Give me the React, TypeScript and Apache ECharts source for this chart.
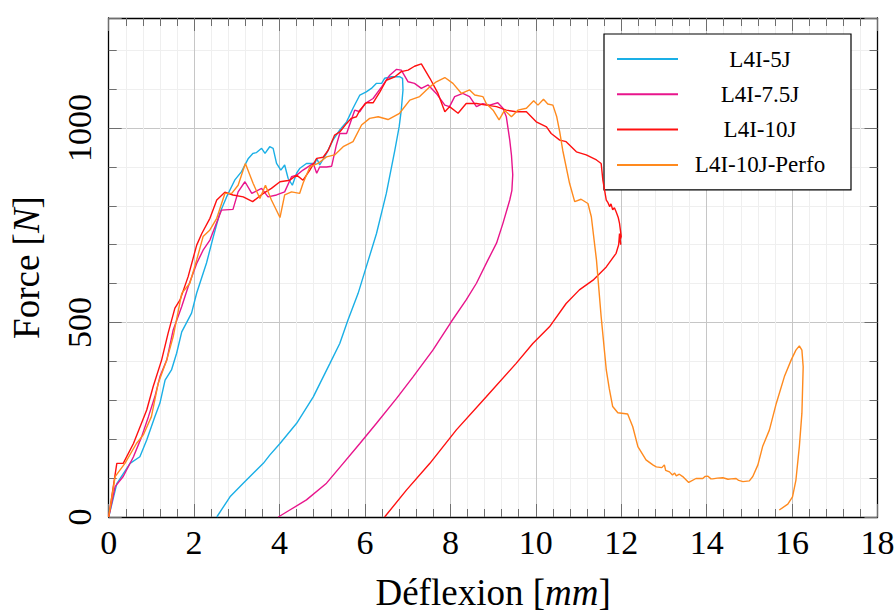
import React, { useEffect, useRef } from "react";
import * as echarts from "echarts";

const seriesNames = ["L4I-5J", "L4I-7.5J", "L4I-10J", "L4I-10J-Perfo"];
const seriesColors = ["#1AAFE6", "#E8158C", "#FF1010", "#FF8A1E"];

const xTicks = { min: 0, max: 18, interval: 2 };
const yTicks = { min: 0, max: 1283, interval: 500 };

const l4i5J: [number, number][] = [
  [0, 0], [0.19, 86], [0.5, 138], [0.73, 155], [0.89, 198], [1.08, 258], [1.2, 293], [1.32, 352],
  [1.47, 378], [1.59, 421], [1.71, 476], [1.94, 524], [2.06, 576], [2.29, 653], [2.45, 721],
  [2.6, 781], [2.76, 823], [2.95, 866], [3.11, 888], [3.27, 922], [3.38, 935], [3.46, 937],
  [3.58, 948], [3.66, 935], [3.77, 952], [3.85, 948], [3.93, 909], [4.03, 892], [4.12, 905],
  [4.2, 871], [4.3, 853], [4.4, 884], [4.47, 896], [4.63, 909], [4.83, 909], [4.87, 922],
  [4.94, 905], [5.1, 935], [5.25, 969], [5.41, 995], [5.57, 1016], [5.72, 1051], [5.88, 1085],
  [6.03, 1093], [6.15, 1102], [6.27, 1115], [6.39, 1115], [6.46, 1128], [6.62, 1132], [6.81, 1132],
  [6.88, 1128], [6.89, 1098], [6.85, 1046], [6.8, 1003], [6.7, 943], [6.5, 832], [6.27, 729],
  [6.03, 643], [5.84, 575], [5.6, 506], [5.41, 446], [5.18, 395], [4.79, 309], [4.4, 241],
  [4.01, 189], [3.77, 159], [3.62, 138], [3.15, 87], [2.84, 52], [2.53, 0],
];

const l4i75J: [number, number][] = [
  [0, 0], [0.15, 78], [0.34, 104], [0.58, 155], [0.77, 206], [0.93, 258], [1.08, 309], [1.2, 361],
  [1.36, 404], [1.51, 481], [1.71, 541], [1.86, 592], [2.06, 652], [2.21, 686], [2.37, 712],
  [2.49, 746], [2.64, 789], [2.91, 791], [3.03, 836], [3.19, 862], [3.35, 832], [3.58, 845],
  [3.73, 823], [3.93, 828], [4.12, 836], [4.28, 875], [4.4, 879], [4.55, 892], [4.79, 909],
  [4.87, 884], [4.94, 900], [5.1, 900], [5.22, 902], [5.33, 956], [5.41, 986], [5.57, 986],
  [5.76, 1046], [5.88, 1042], [6.0, 1063], [6.19, 1076], [6.39, 1106], [6.58, 1136], [6.74, 1151],
  [6.85, 1149], [7.01, 1119], [7.16, 1115], [7.32, 1102], [7.48, 1111], [7.67, 1089], [7.87, 1059],
  [7.98, 1055], [8.1, 1081], [8.29, 1089], [8.45, 1081], [8.61, 1055], [8.76, 1063], [8.92, 1059],
  [9.11, 1065], [9.23, 1051], [9.31, 1029], [9.39, 969], [9.43, 930], [9.46, 880], [9.44, 840],
  [9.39, 815], [9.23, 755], [9.08, 704], [8.88, 661], [8.61, 601], [8.37, 558], [8.02, 502],
  [7.59, 429], [7.13, 361], [6.74, 305], [6.27, 241], [5.88, 189], [5.49, 138], [5.1, 87],
  [4.63, 44], [4.24, 18], [3.97, 0],
];

const l4i10J: [number, number][] = [
  [0, 0], [0.19, 138], [0.34, 138], [0.58, 189], [0.89, 275], [1.04, 335], [1.24, 404], [1.39, 472],
  [1.55, 537], [1.67, 558], [1.86, 618], [2.06, 699], [2.18, 729], [2.37, 768], [2.53, 815],
  [2.72, 835], [2.91, 828], [3.15, 823], [3.37, 811], [3.62, 832], [3.81, 845], [4.01, 862],
  [4.24, 866], [4.4, 879], [4.55, 866], [4.71, 892], [4.87, 922], [5.02, 925], [5.14, 943],
  [5.29, 982], [5.41, 990], [5.57, 1012], [5.68, 1025], [5.8, 1029], [5.88, 1046], [6.03, 1065],
  [6.19, 1065], [6.35, 1093], [6.5, 1123], [6.7, 1132], [6.85, 1145], [7.01, 1149], [7.16, 1159],
  [7.32, 1165], [7.52, 1128], [7.71, 1089], [7.87, 1042], [7.98, 1055], [8.18, 1038], [8.37, 1063],
  [8.61, 1063], [8.84, 1059], [9.08, 1055], [9.31, 1046], [9.54, 1042], [9.78, 1042], [10.01, 1016],
  [10.25, 1003], [10.36, 986], [10.56, 969], [10.71, 965], [10.95, 939], [11.18, 931], [11.42, 918],
  [11.53, 909], [11.57, 866], [11.65, 815], [11.69, 808], [11.73, 798], [11.76, 805], [11.8, 790],
  [11.84, 795], [11.88, 785], [11.93, 770], [11.96, 755], [12.0, 721], [11.97, 712], [11.99, 700],
  [11.96, 729], [11.94, 700], [11.88, 678], [11.65, 643], [11.34, 609], [11.02, 584], [10.71, 549],
  [10.32, 489], [9.93, 446], [9.54, 395], [8.84, 309], [8.14, 224], [7.52, 138], [6.97, 69],
  [6.46, 0],
];

const l4i10JPerfo: [number, number][] = [
  [0, 0], [0.15, 104], [0.38, 138], [0.65, 189], [0.81, 211], [1.0, 258], [1.16, 344], [1.36, 404],
  [1.51, 464], [1.71, 575], [1.9, 601], [2.06, 661], [2.21, 721], [2.37, 738], [2.53, 768],
  [2.72, 832], [2.88, 832], [3.03, 853], [3.2, 909], [3.38, 858], [3.54, 819], [3.67, 853],
  [3.81, 815], [4.01, 770], [4.12, 828], [4.28, 836], [4.47, 832], [4.55, 858], [4.71, 900],
  [4.9, 909], [5.1, 926], [5.29, 931], [5.49, 952], [5.72, 965], [5.92, 1008], [6.11, 1025],
  [6.31, 1029], [6.54, 1022], [6.81, 1038], [7.05, 1072], [7.28, 1081], [7.52, 1106], [7.67, 1119],
  [7.87, 1130], [8.06, 1115], [8.26, 1089], [8.45, 1098], [8.57, 1085], [8.76, 1081], [8.84, 1063],
  [9.0, 1046], [9.14, 1021], [9.27, 1046], [9.43, 1029], [9.58, 1046], [9.78, 1051], [9.95, 1070],
  [10.05, 1059], [10.18, 1074], [10.28, 1062], [10.4, 1059], [10.49, 1029], [10.56, 990],
  [10.63, 943], [10.79, 858], [10.91, 811], [11.06, 817], [11.22, 806], [11.3, 772], [11.42, 661],
  [11.53, 515], [11.65, 378], [11.72, 330], [11.8, 284], [11.92, 268], [12.15, 265], [12.27, 232],
  [12.39, 181], [12.58, 147], [12.74, 134], [12.82, 129],
  [12.95, 127], [13.01, 134], [13.04, 120], [13.13, 116], [13.2, 108], [13.25, 113], [13.29, 106],
  [13.36, 110], [13.44, 104], [13.58, 89], [13.75, 99], [13.91, 99], [13.96, 104], [14.03, 105],
  [14.1, 98], [14.14, 98], [14.25, 100], [14.38, 101], [14.5, 97], [14.57, 98], [14.69, 99],
  [14.75, 94], [14.85, 91], [15.0, 93], [15.08, 104], [15.2, 134], [15.31, 181], [15.47, 224],
  [15.63, 292], [15.82, 361], [15.98, 404], [16.09, 429], [16.17, 440], [16.23, 429], [16.26, 386],
  [16.23, 267], [16.17, 181], [16.09, 95], [16.01, 52], [15.9, 33], [15.7, 18],
];

const allData = [l4i5J, l4i75J, l4i10J, l4i10JPerfo];

const FONT = "'Liberation Serif', 'DejaVu Serif', serif";

export default function App() {
  const ref = useRef<HTMLDivElement>(null);
  useEffect(() => {
    if (!ref.current) return;
    const chart = echarts.init(ref.current, undefined, { renderer: "svg" });
    const tickStyle = { color: "#6e6e6e", width: 1 };
    const baseX = {
      type: "value" as const,
      min: xTicks.min,
      max: xTicks.max,
      interval: xTicks.interval,
      axisLine: { show: true, onZero: false, lineStyle: { color: "#000", width: 1.3 } },
      axisTick: { show: true, inside: true, length: 13, lineStyle: tickStyle },
      minorTick: { show: true, splitNumber: 5, length: 8, lineStyle: tickStyle },
    };
    const baseY = {
      type: "value" as const,
      min: yTicks.min,
      max: yTicks.max,
      interval: yTicks.interval,
      axisLine: { show: true, onZero: false, lineStyle: { color: "#000", width: 1.3 } },
      axisTick: { show: true, inside: true, length: 13, lineStyle: tickStyle },
      minorTick: { show: true, splitNumber: 5, length: 8, lineStyle: tickStyle },
    };
    chart.setOption({
      animation: false,
      backgroundColor: "#fff",
      grid: { left: 108.7, right: 18.5, top: 18, bottom: 95, containLabel: false, outerBoundsMode: "none" },
      xAxis: [
        {
          ...baseX,
          position: "bottom",
          name: "Déflexion [{i|mm}]",
          nameLocation: "middle",
          nameGap: 57,
          nameTextStyle: {
            fontFamily: FONT,
            fontSize: 37,
            color: "#000",
            rich: { i: { fontFamily: FONT, fontSize: 37, fontStyle: "italic", color: "#000" } },
          },
          axisLabel: { show: true, fontFamily: FONT, fontSize: 34, color: "#000", margin: 8, formatter: (v: number) => String(v) },
          splitLine: { show: true, lineStyle: { color: "#c6c6c6", width: 1 } },
          minorSplitLine: { show: true, lineStyle: { color: "#efefef", width: 1 } },
        },
        { ...baseX, position: "top", axisLabel: { show: false }, splitLine: { show: false } },
      ],
      yAxis: [
        {
          ...baseY,
          position: "left",
          name: "Force [{i|N}]",
          nameLocation: "middle",
          nameGap: 64,
          nameTextStyle: {
            fontFamily: FONT,
            fontSize: 37,
            color: "#000",
            rich: { i: { fontFamily: FONT, fontSize: 37, fontStyle: "italic", color: "#000" } },
          },
          axisLabel: {
            show: true,
            rotate: 90,
            showMaxLabel: false,
            fontFamily: FONT,
            fontSize: 34,
            color: "#000",
            margin: 12,
            formatter: (v: number) => String(v),
          },
          splitLine: { show: true, lineStyle: { color: "#c6c6c6", width: 1 } },
          minorSplitLine: { show: true, lineStyle: { color: "#efefef", width: 1 } },
        },
        { ...baseY, position: "right", axisLabel: { show: false }, splitLine: { show: false } },
      ],
      legend: {
        show: true,
        orient: "vertical",
        left: 604,
        top: 34,
        padding: [13.5, 14, 13.5, 13],
        itemGap: 12.3,
        itemWidth: 61,
        itemHeight: 2,
        icon: "rect",
        backgroundColor: "#fff",
        borderColor: "#000",
        borderWidth: 1.2,
        data: seriesNames,
        formatter: (name: string) => `{a|${name}}`,
        textStyle: {
          fontFamily: FONT,
          fontSize: 23,
          color: "#000",
          rich: { a: { width: 154, align: "center", fontFamily: FONT, fontSize: 23, lineHeight: 20, color: "#000" } },
        },
      },
      series: allData.map((d, i) => ({
        name: seriesNames[i],
        type: "line",
        data: d,
        xAxisIndex: 0,
        yAxisIndex: 0,
        showSymbol: false,
        symbol: "none",
        smooth: false,
        color: seriesColors[i],
        lineStyle: { color: seriesColors[i], width: 1.4 },
        z: 3 + i,
      })),
    });
    return () => chart.dispose();
  }, []);
  return <div ref={ref} style={{ width: 896, height: 612, position: "absolute", left: 0, top: 0 }} />;
}
